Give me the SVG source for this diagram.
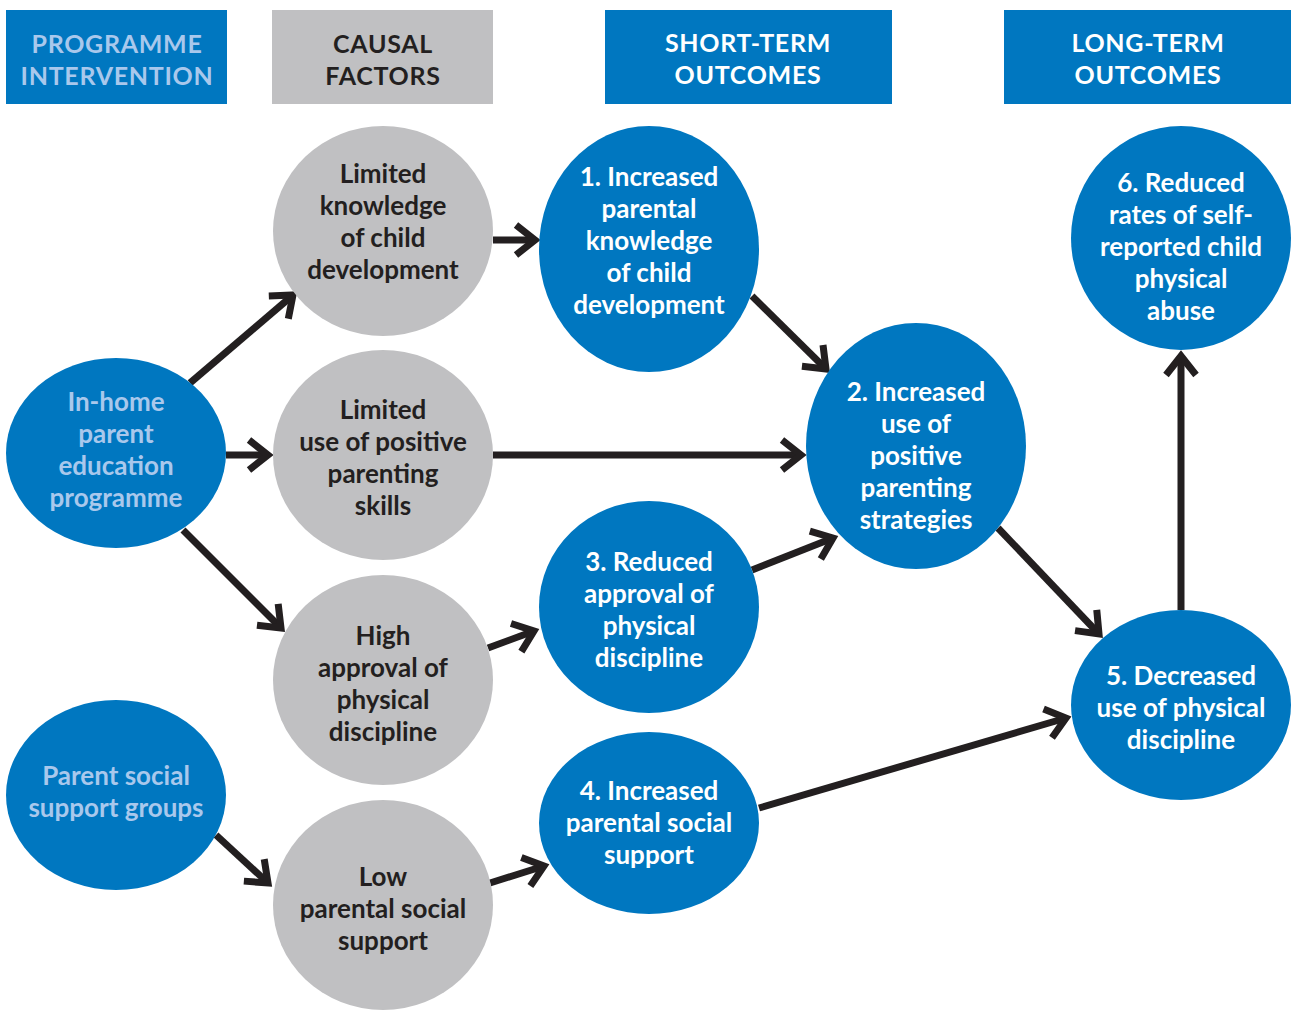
<svg xmlns="http://www.w3.org/2000/svg" width="1292" height="1010" viewBox="0 0 1292 1010">
<style>
.hb{fill:#0077C0}
.hg{fill:#C0C0C2}
.cb{fill:#0077C0}
.cg{fill:#C0C0C2}
text{font-family:Lato,"Open Sans","Liberation Sans",sans-serif;font-weight:bold;text-anchor:middle;dominant-baseline:central}
.ht{font-size:25px;letter-spacing:0.7px}
.t{font-size:26px}
.lb{fill:#A9C8EC}
.w{fill:#FFFFFF}
.d{fill:#231F20}
.c{stroke:#231F20;stroke-width:7;fill:none}
</style>
<defs>
<marker id="ah" markerUnits="userSpaceOnUse" markerWidth="40" markerHeight="40" refX="0" refY="0" orient="auto" overflow="visible" viewBox="-30 -20 40 40">
<path d="M-19,-15 L0,0 L-19,15" fill="none" stroke="#231F20" stroke-width="7" stroke-miterlimit="10"/>
</marker>
</defs>
<g id="headers">
<g id="h1"><rect class="hb" x="6" y="10" width="221" height="94"/><text class="ht lb" x="117" y="43">PROGRAMME</text><text class="ht lb" x="117" y="75">INTERVENTION</text></g>
<g id="h2"><rect class="hg" x="272" y="10" width="221" height="94"/><text class="ht d" x="383" y="43">CAUSAL</text><text class="ht d" x="383" y="75">FACTORS</text></g>
<g id="h3"><rect class="hb" x="605" y="10" width="287" height="94"/><text class="ht w" x="748" y="42">SHORT-TERM</text><text class="ht w" x="748" y="74">OUTCOMES</text></g>
<g id="h4"><rect class="hb" x="1004" y="10" width="287" height="94"/><text class="ht w" x="1148" y="42">LONG-TERM</text><text class="ht w" x="1148" y="74">OUTCOMES</text></g>
</g>
<g id="connectors">
<line class="c" x1="190" y1="383" x2="293" y2="295" marker-end="url(#ah)"/>
<line class="c" x1="226" y1="455" x2="268" y2="455" marker-end="url(#ah)"/>
<line class="c" x1="183" y1="530" x2="281" y2="628" marker-end="url(#ah)"/>
<line class="c" x1="216" y1="835" x2="268" y2="883" marker-end="url(#ah)"/>
<line class="c" x1="493" y1="240" x2="535" y2="240" marker-end="url(#ah)"/>
<line class="c" x1="493" y1="455" x2="801" y2="455" marker-end="url(#ah)"/>
<line class="c" x1="488" y1="648" x2="534" y2="631" marker-end="url(#ah)"/>
<line class="c" x1="490" y1="883" x2="544" y2="866" marker-end="url(#ah)"/>
<line class="c" x1="752" y1="296" x2="826" y2="369" marker-end="url(#ah)"/>
<line class="c" x1="752" y1="570" x2="833" y2="538" marker-end="url(#ah)"/>
<line class="c" x1="998" y1="528" x2="1099" y2="634" marker-end="url(#ah)"/>
<line class="c" x1="759" y1="808" x2="1066" y2="718" marker-end="url(#ah)"/>
<line class="c" x1="1181" y1="610" x2="1181" y2="356" marker-end="url(#ah)"/>
</g>
<g id="n-inhome"><ellipse class="cb" cx="116" cy="453" rx="110" ry="95"/>
<text class="t lb" x="116" y="401">In-home</text><text class="t lb" x="116" y="433">parent</text><text class="t lb" x="116" y="465">education</text><text class="t lb" x="116" y="497">programme</text></g>
<g id="n-social"><ellipse class="cb" cx="116" cy="795" rx="110" ry="95"/>
<text class="t lb" x="116" y="775">Parent social</text><text class="t lb" x="116" y="807">support groups</text></g>
<g id="n-g1"><ellipse class="cg" cx="383" cy="231" rx="110" ry="105"/>
<text class="t d" x="383" y="173">Limited</text><text class="t d" x="383" y="205">knowledge</text><text class="t d" x="383" y="237">of child</text><text class="t d" x="383" y="269">development</text></g>
<g id="n-g2"><ellipse class="cg" cx="383" cy="455" rx="110" ry="105"/>
<text class="t d" x="383" y="409">Limited</text><text class="t d" x="383" y="441">use of positive</text><text class="t d" x="383" y="473">parenting</text><text class="t d" x="383" y="505">skills</text></g>
<g id="n-g3"><ellipse class="cg" cx="383" cy="680" rx="110" ry="105"/>
<text class="t d" x="383" y="635">High</text><text class="t d" x="383" y="667">approval of</text><text class="t d" x="383" y="699">physical</text><text class="t d" x="383" y="731">discipline</text></g>
<g id="n-g4"><ellipse class="cg" cx="383" cy="905" rx="110" ry="105"/>
<text class="t d" x="383" y="876">Low</text><text class="t d" x="383" y="908">parental social</text><text class="t d" x="383" y="940">support</text></g>
<g id="n-o1"><ellipse class="cb" cx="649" cy="249" rx="110" ry="123"/>
<text class="t w" x="649" y="176">1. Increased</text><text class="t w" x="649" y="208">parental</text><text class="t w" x="649" y="240">knowledge</text><text class="t w" x="649" y="272">of child</text><text class="t w" x="649" y="304">development</text></g>
<g id="n-o2"><ellipse class="cb" cx="916" cy="446" rx="110" ry="123"/>
<text class="t w" x="916" y="391">2. Increased</text><text class="t w" x="916" y="423">use of</text><text class="t w" x="916" y="455">positive</text><text class="t w" x="916" y="487">parenting</text><text class="t w" x="916" y="519">strategies</text></g>
<g id="n-o3"><ellipse class="cb" cx="649" cy="607" rx="110" ry="106"/>
<text class="t w" x="649" y="561">3. Reduced</text><text class="t w" x="649" y="593">approval of</text><text class="t w" x="649" y="625">physical</text><text class="t w" x="649" y="657">discipline</text></g>
<g id="n-o4"><ellipse class="cb" cx="649" cy="823" rx="110" ry="91"/>
<text class="t w" x="649" y="790">4. Increased</text><text class="t w" x="649" y="822">parental social</text><text class="t w" x="649" y="854">support</text></g>
<g id="n-o5"><ellipse class="cb" cx="1181" cy="705" rx="110" ry="95"/>
<text class="t w" x="1181" y="675">5. Decreased</text><text class="t w" x="1181" y="707">use of physical</text><text class="t w" x="1181" y="739">discipline</text></g>
<g id="n-o6"><ellipse class="cb" cx="1181" cy="238" rx="110" ry="112"/>
<text class="t w" x="1181" y="182">6. Reduced</text><text class="t w" x="1181" y="214">rates of self-</text><text class="t w" x="1181" y="246">reported child</text><text class="t w" x="1181" y="278">physical</text><text class="t w" x="1181" y="310">abuse</text></g>
</svg>
